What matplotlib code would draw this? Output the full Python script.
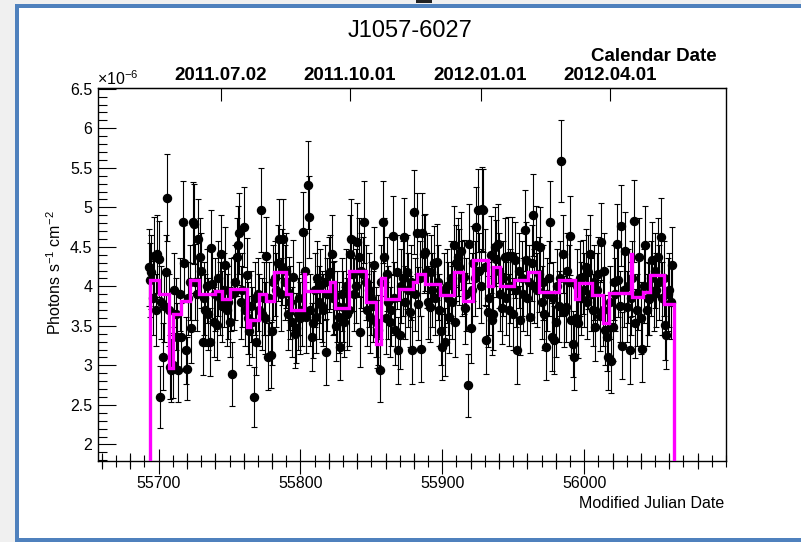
import numpy as np
import matplotlib
matplotlib.use("Agg")
import matplotlib.pyplot as plt
from matplotlib.patches import Rectangle
from matplotlib.ticker import MultipleLocator, FuncFormatter, NullLocator, FixedLocator

plt.rcParams['font.family'] = ['Liberation Sans', 'DejaVu Sans']
plt.rcParams['mathtext.fontset'] = 'custom'
plt.rcParams['mathtext.rm'] = 'Liberation Sans'
plt.rcParams['mathtext.it'] = 'Liberation Sans:italic'
plt.rcParams['mathtext.bf'] = 'Liberation Sans:bold'

# ---- data -------------------------------------------------------------
source_name = "J1057-6027"
first_day = 55693          # MJD of the first daily bin

# daily photon flux, units of 1e-6 photons s^-1 cm^-2
flux = [
    4.24, 4.08, 4.18, 3.85, 4.39, 3.70, 4.41, 4.35,
    2.60, 3.80, 3.11, 3.75, 4.18, 5.12, 3.70,
    2.98, 2.94, 3.00,
    3.95, 3.65, 3.36, 2.94, 3.90,
    3.36, 4.81, 4.29, 3.19, 2.96, 3.85, 4.05,
    3.47, 4.81, 4.79, 4.05, 3.90, 4.60,
    4.37, 4.20, 3.30, 3.85, 3.70, 4.00, 3.65, 3.30, 4.48, 4.03, 3.55,
    3.90, 3.51, 4.10, 3.85, 4.41,
    3.75, 3.95, 4.27, 3.70, 3.80, 3.55,
    3.90, 2.89, 3.91, 4.05, 4.37, 4.52, 4.67, 3.80, 3.95, 4.75, 3.70, 4.14,
    3.60, 3.44,
    3.75, 3.55, 2.60, 3.85, 3.30, 3.90,
    3.70, 4.97, 3.65, 3.85, 3.60,
    4.39, 3.11, 3.85, 3.13, 3.44, 4.05,
    4.10, 3.95, 4.30, 4.60, 3.90, 4.25, 4.60, 4.05,
    4.20, 3.65, 3.91, 3.80,
    3.55, 4.12, 3.40, 3.47, 3.65, 3.85, 3.60, 3.70,
    4.69, 4.20, 3.61, 5.28, 4.88, 3.70, 3.36, 3.53, 3.95, 3.61,
    4.10, 3.80, 4.00, 3.75, 3.70, 4.05, 3.17, 3.90, 4.15,
    4.18, 4.41, 3.85,
    3.86, 3.50, 3.75, 3.61, 3.23, 3.90, 3.74, 3.55, 4.00, 3.65, 3.70,
    4.41, 4.60, 4.16, 3.90, 4.00, 4.56, 4.37, 3.42, 4.20, 4.16, 4.81, 4.05,
    3.70, 3.95, 3.61, 3.85, 3.75, 4.27, 3.55,
    3.40, 3.45, 2.94,
    4.05, 4.81, 4.37,
    3.60, 4.16, 3.80, 3.55, 3.70, 4.64, 3.85, 3.45, 4.18, 3.19,
    3.38, 4.00, 4.10, 4.62, 3.80, 4.18, 3.95, 3.68, 4.05, 3.19,
    4.94, 3.90, 4.67, 3.78, 4.10, 3.21, 4.67, 4.41,
    4.43, 4.20, 3.80, 3.74, 4.18, 3.95, 4.29, 3.85, 4.31, 4.05, 3.70,
    3.44, 3.23, 3.95, 3.30, 4.00, 3.85, 3.61, 4.10, 3.80, 4.52,
    3.55, 4.30, 4.37, 4.24, 4.45, 4.10,
    4.12, 3.72, 3.90, 2.75, 4.54, 3.47, 3.95,
    4.29, 4.10, 4.75, 4.96, 4.20, 4.00, 4.98, 4.96, 4.24, 3.32, 3.68,
    3.85, 4.40, 3.57,
    3.65, 4.50, 4.35, 4.54, 4.20,
    3.90, 3.72, 4.10, 4.37, 3.85, 4.39, 3.70, 4.00, 4.39, 3.65,
    4.33, 3.95, 3.19, 4.20, 3.57, 4.10, 3.90, 4.71, 4.33, 3.85,
    4.05, 3.61, 4.30, 4.90, 4.00, 4.52, 3.95, 4.15,
    4.50, 3.80, 4.05, 3.65, 3.23, 3.90, 4.10, 4.81, 3.36, 3.85, 3.32, 3.55, 4.00, 3.75,
    4.10, 5.59, 4.41, 3.68, 3.74, 4.20, 4.05, 4.64, 3.57, 3.27, 3.11,
    3.60, 4.00, 3.53,
    4.10, 3.85, 4.12, 3.95, 4.25, 3.80, 4.18, 4.41, 3.90,
    3.70, 4.05, 3.49, 3.95, 4.15, 3.63, 4.56, 3.70,
    4.20, 3.45, 3.36, 3.11,
    3.80, 3.06, 3.49, 4.05, 3.90, 4.54, 4.08, 3.75, 4.77, 3.25, 3.95, 4.45,
    3.74, 4.00, 3.19, 3.85, 4.10, 4.83, 3.53, 3.70, 3.91, 4.37, 3.60, 3.21,
    4.00, 4.52, 3.70, 3.85, 3.84,
    4.10, 4.33, 3.90, 4.20, 3.95, 4.37, 4.05, 4.62, 3.85, 4.10,
    3.51, 3.38, 3.90, 3.95, 3.80, 4.27,
]

flux_err = [
    0.49, 0.47, 0.47, 0.47, 0.49, 0.45, 0.49, 0.48,
    0.39, 0.46, 0.42, 0.45, 0.47, 0.55, 0.45,
    0.40, 0.40, 0.41,
    0.47, 0.45, 0.43, 0.40, 0.46,
    0.43, 0.52, 0.49, 0.42, 0.40, 0.46, 0.47,
    0.44, 0.51, 0.51, 0.48, 0.46, 0.50,
    0.49, 0.48, 0.42, 0.46, 0.45, 0.47, 0.45, 0.43, 0.49, 0.47, 0.44,
    0.46, 0.44, 0.47, 0.46, 0.49,
    0.45, 0.47, 0.48, 0.45, 0.46, 0.44,
    0.46, 0.40, 0.46, 0.47, 0.49, 0.50, 0.51, 0.46, 0.47, 0.51, 0.45, 0.47,
    0.45, 0.44,
    0.45, 0.44, 0.38, 0.46, 0.42, 0.46,
    0.45, 0.53, 0.45, 0.46, 0.45,
    0.49, 0.42, 0.46, 0.42, 0.44, 0.47,
    0.47, 0.47, 0.48, 0.50, 0.46, 0.48, 0.50, 0.47,
    0.48, 0.45, 0.46, 0.46,
    0.44, 0.47, 0.43, 0.44, 0.45, 0.46, 0.45, 0.45,
    0.51, 0.48, 0.45, 0.56, 0.52, 0.45, 0.43, 0.44, 0.47, 0.45,
    0.47, 0.46, 0.47, 0.45, 0.45, 0.47, 0.42, 0.46, 0.47,
    0.47, 0.49, 0.46,
    0.46, 0.44, 0.45, 0.45, 0.42, 0.46, 0.45, 0.44, 0.47, 0.45, 0.45,
    0.49, 0.50, 0.47, 0.46, 0.47, 0.50, 0.49, 0.44, 0.48, 0.47, 0.52, 0.47,
    0.45, 0.47, 0.45, 0.46, 0.45, 0.48, 0.44,
    0.43, 0.44, 0.40,
    0.47, 0.52, 0.49,
    0.45, 0.47, 0.46, 0.44, 0.45, 0.50, 0.46, 0.44, 0.47, 0.42,
    0.43, 0.47, 0.47, 0.50, 0.46, 0.47, 0.47, 0.45, 0.47, 0.42,
    0.53, 0.46, 0.51, 0.46, 0.47, 0.42, 0.51, 0.49,
    0.49, 0.48, 0.46, 0.45, 0.47, 0.47, 0.48, 0.46, 0.48, 0.47, 0.45,
    0.44, 0.42, 0.47, 0.43, 0.47, 0.46, 0.45, 0.47, 0.46, 0.50,
    0.44, 0.48, 0.49, 0.48, 0.49, 0.47,
    0.47, 0.45, 0.46, 0.40, 0.50, 0.44, 0.47,
    0.48, 0.47, 0.51, 0.53, 0.48, 0.47, 0.53, 0.53, 0.48, 0.43, 0.45,
    0.46, 0.49, 0.44,
    0.45, 0.50, 0.49, 0.50, 0.48,
    0.46, 0.45, 0.47, 0.49, 0.46, 0.49, 0.45, 0.47, 0.49, 0.45,
    0.48, 0.47, 0.42, 0.48, 0.44, 0.47, 0.46, 0.51, 0.48, 0.46,
    0.47, 0.45, 0.48, 0.52, 0.47, 0.50, 0.47, 0.47,
    0.50, 0.46, 0.47, 0.45, 0.42, 0.46, 0.47, 0.52, 0.43, 0.46, 0.43, 0.44, 0.47, 0.45,
    0.47, 0.52, 0.49, 0.45, 0.45, 0.48, 0.47, 0.50, 0.44, 0.42, 0.42,
    0.45, 0.47, 0.44,
    0.47, 0.46, 0.47, 0.47, 0.48, 0.46, 0.47, 0.49, 0.46,
    0.45, 0.47, 0.44, 0.47, 0.47, 0.45, 0.50, 0.45,
    0.48, 0.44, 0.43, 0.42,
    0.46, 0.41, 0.44, 0.47, 0.46, 0.50, 0.47, 0.45, 0.51, 0.42, 0.47, 0.49,
    0.45, 0.47, 0.42, 0.46, 0.47, 0.52, 0.44, 0.45, 0.46, 0.49, 0.45, 0.42,
    0.47, 0.50, 0.45, 0.46, 0.46,
    0.47, 0.48, 0.46, 0.48, 0.47, 0.49, 0.47, 0.50, 0.46, 0.47,
    0.44, 0.43, 0.46, 0.47, 0.46, 0.48,
]

# Bayesian-block representation (edges in MJD, levels in 1e-6 ph s^-1 cm^-2)
block_edges = [
    55694.0, 55700.5, 55707.5, 55710.5, 55715.5, 55722.5, 55728.5, 55739.5,
    55744.5, 55750.5, 55762.5, 55764.5, 55770.5, 55775.5, 55781.5, 55789.5,
    55793.5, 55802.5, 55803.5, 55820.5, 55824.5, 55834.5, 55846.5, 55853.5,
    55856.5, 55859.5, 55869.5, 55879.5, 55882.5, 55887.5, 55898.5, 55908.5,
    55914.5, 55921.5, 55932.5, 55935.5, 55940.5, 55950.5, 55960.5, 55968.5,
    55982.5, 55993.5, 55996.5, 56005.5, 56013.5, 56017.5, 56033.0, 56034.0,
    56041.5, 56046.5, 56056.5, 56063.0,
]
block_levels = [
    4.085, 3.905, 2.97, 3.655, 3.82, 4.085, 3.90, 3.94,
    3.835, 3.97, 3.485, 3.58, 3.905, 3.81, 4.18, 3.905,
    3.695, 4.15, 3.94, 4.05, 3.72, 4.20, 3.80, 3.27,
    4.10, 3.84, 3.97, 4.05, 4.16, 4.03, 3.885, 4.18,
    3.82, 4.33, 4.01, 4.24, 4.01, 4.08, 4.18, 3.93,
    4.08, 3.84, 4.04, 3.885, 3.53, 3.91, 4.41, 3.865,
    3.93, 4.14, 3.78,
]

mjd_ticks = [55700, 55800, 55900, 56000]
calendar_mjd = [55744, 55835, 55927, 56018]
calendar_labels = ["2011.07.02", "2011.10.01", "2012.01.01", "2012.04.01"]

x_range = (55657.3, 56100.0)
y_range = (1.79, 6.51)

# ---- figure -----------------------------------------------------------
W, H = 801, 542
fig = plt.figure(figsize=(W / 100, H / 100), dpi=100)
fig.patch.set_facecolor('white')

# window chrome around the canvas
fig.patches.append(Rectangle((0, 0), 15 / W, 1, transform=fig.transFigure,
                             facecolor='#f0f0f0', edgecolor='none', zorder=0))
fig.patches.append(Rectangle((0, 1 - 4 / H), 1, 4 / H, transform=fig.transFigure,
                             facecolor='#f0f0f0', edgecolor='none', zorder=0))
fig.patches.append(Rectangle((416 / W, 1 - 3 / H), 16 / W, 3 / H, transform=fig.transFigure,
                             facecolor='#222222', edgecolor='none', zorder=1))
border = '#4f81bd'
fig.patches.append(Rectangle((15 / W, 0), 4 / W, 1 - 4 / H, transform=fig.transFigure,
                             facecolor=border, edgecolor='none', zorder=1))
fig.patches.append(Rectangle((15 / W, 1 - 8 / H), 1, 4 / H, transform=fig.transFigure,
                             facecolor=border, edgecolor='none', zorder=1))
fig.patches.append(Rectangle((15 / W, 0), 1, 4 / H, transform=fig.transFigure,
                             facecolor=border, edgecolor='none', zorder=1))

ax = fig.add_axes([98 / W, 1 - 461 / H, (726 - 98) / W, (461 - 88) / H])

mjd = first_day + np.arange(len(flux))
ax.errorbar(mjd, flux, yerr=flux_err, fmt='o', color='black', ms=5.8,
            elinewidth=0.8, capsize=2, capthick=0.8, zorder=3)
ax.stairs(block_levels, block_edges, baseline=0, color='#ff00ff',
          linewidth=2.4, zorder=4)

ax.set_xlim(*x_range)
ax.set_ylim(*y_range)

for sp in ax.spines.values():
    sp.set_linewidth(1.0)

# y axis: ticks inside, major every 0.5, minor every 0.1
ax.yaxis.set_major_locator(MultipleLocator(0.5))
ax.yaxis.set_minor_locator(MultipleLocator(0.1))
ax.yaxis.set_major_formatter(FuncFormatter(lambda v, p: '%g' % v))
ax.tick_params(axis='y', which='major', direction='in', length=12.7, width=0.8,
               labelsize=11.5, pad=4, right=False)
ax.tick_params(axis='y', which='minor', direction='in', length=6.3, width=0.8,
               right=False)

# x axis: MJD, labelled every 100 d, minor every 10 d
ax.xaxis.set_major_locator(FixedLocator(mjd_ticks))
ax.xaxis.set_minor_locator(MultipleLocator(10))
ax.xaxis.set_major_formatter(FuncFormatter(lambda v, p: '%d' % v))
ax.tick_params(axis='x', which='major', direction='inout', length=18, width=0.8,
               labelsize=11.5, pad=1.5, top=False)
ax.tick_params(axis='x', which='minor', direction='inout', length=8, width=0.8,
               top=False)

# intermediate ticks every 20 d
mid = ax.secondary_xaxis('bottom')
mid.set_xticks([t for t in range(55660, 56100, 20) if t % 100])
mid.xaxis.set_minor_locator(NullLocator())
mid.tick_params(direction='inout', length=12, width=0.8, labelbottom=False)
mid.spines['bottom'].set_visible(False)

# calendar date axis on top
top = ax.secondary_xaxis('top')
top.set_xticks(calendar_mjd, calendar_labels)
top.xaxis.set_minor_locator(NullLocator())
top.tick_params(direction='in', length=9, width=0.8, pad=3, labelsize=13.5)
for lab in top.get_xticklabels():
    lab.set_fontweight('bold')

# texts
fig.text(410 / W, 1 - 37 / H, source_name, ha='center', va='baseline', fontsize=17)
fig.text(717 / W, 1 - 61 / H, 'Calendar Date', ha='right', va='baseline',
         fontsize=13.5, fontweight='bold')
fig.text(724 / W, 1 - 508 / H, 'Modified Julian Date', ha='right', va='baseline',
         fontsize=11.5)
fig.text(97 / W, 1 - 85 / H, r'$\times10^{-6}$', ha='left', va='baseline', fontsize=11.5)
fig.text(55 / W, 1 - 273 / H, r'Photons s$^{-1}$ cm$^{-2}$', ha='center', va='center',
         rotation=90, fontsize=11.5)

fig.savefig('out.png', dpi=100)
